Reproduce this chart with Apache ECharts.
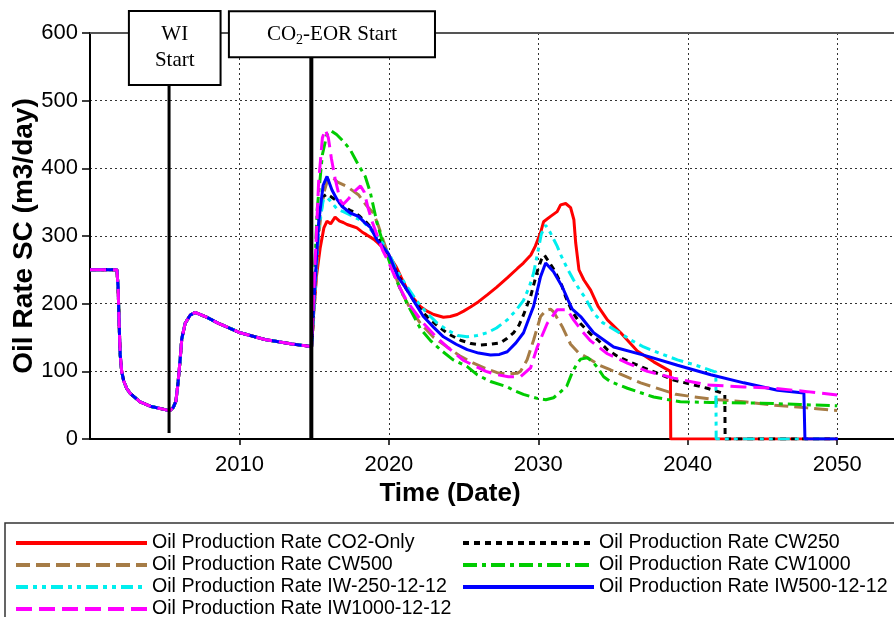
<!DOCTYPE html>
<html>
<head>
<meta charset="utf-8">
<script src="https://cdn.jsdelivr.net/npm/echarts@6/dist/echarts.min.js"></script>
<style>
  html, body { margin: 0; padding: 0; background: #fff; }
  #chart { width: 894px; height: 617px; }
</style>
</head>
<body>
<div id="chart"></div>
<script>
// shared history (same for every case up to CO2 start), [year, m3/day]
const history = [
  [2000, 250], [2001.8, 250], [2001.88, 225], [2001.95, 170], [2002.02, 125], [2002.12, 100],
  [2002.25, 86], [2002.45, 75], [2002.7, 67], [2003.35, 55], [2004.1, 48], [2005.1, 43],
  [2005.35, 42], [2005.58, 47], [2005.75, 56], [2005.9, 85], [2006.03, 117], [2006.14, 148],
  [2006.37, 171], [2006.7, 183], [2007.03, 187], [2007.8, 180], [2008.6, 171], [2010.05, 157],
  [2011.7, 147], [2013.5, 140.5], [2014.83, 136.5]
]

const co2Only = [
  [2014.95, 180], [2015.15, 240], [2015.4, 282], [2015.65, 312], [2015.86, 322], [2016.1, 318],
  [2016.4, 328], [2016.7, 322], [2016.95, 320], [2017.2, 317], [2017.6, 314], [2017.86, 312],
  [2018.2, 306], [2018.5, 302], [2019.0, 295], [2019.3, 289], [2019.8, 278], [2020.1, 268],
  [2020.5, 254], [2020.8, 240], [2021.2, 222], [2021.64, 208], [2022.1, 196], [2022.55, 189],
  [2023.0, 184], [2023.65, 180], [2024.1, 181], [2024.57, 184], [2025.0, 189], [2025.46, 195],
  [2026.0, 203], [2026.58, 213], [2027.2, 224], [2027.92, 238], [2028.6, 252], [2029.0, 260],
  [2029.5, 272], [2029.8, 285], [2030.15, 305], [2030.35, 321], [2030.82, 329], [2031.26, 336],
  [2031.49, 346], [2031.83, 348], [2032.16, 342], [2032.38, 324], [2032.5, 290], [2032.72, 250],
  [2033.05, 235], [2033.5, 220], [2034.0, 196], [2034.62, 176], [2035.51, 157], [2036.62, 130],
  [2037.72, 114], [2038.84, 100], [2038.86, 0], [2050, 0]
]

const cw250 = [
  [2015.0, 200], [2015.3, 320], [2015.6, 358], [2015.85, 362], [2016.2, 357], [2016.53, 352],
  [2016.95, 344], [2017.4, 338], [2017.62, 336], [2018.0, 330], [2018.5, 320], [2018.96, 309],
  [2019.5, 290], [2019.97, 273], [2020.3, 255], [2020.8, 235], [2021.22, 220], [2021.8, 200],
  [2022.31, 186], [2023.0, 172], [2023.45, 164], [2024.0, 155], [2024.79, 146], [2025.5, 141],
  [2026.13, 139], [2026.8, 140], [2027.47, 142], [2027.92, 149], [2028.34, 157], [2028.7, 168],
  [2029.0, 183], [2029.5, 212], [2029.93, 248], [2030.2, 265], [2030.4, 272], [2030.7, 262],
  [2031.0, 252], [2031.5, 231], [2031.83, 210], [2032.27, 188], [2032.8, 171], [2033.5, 155],
  [2034.0, 146], [2034.62, 132], [2035.3, 122], [2036.85, 107], [2038.2, 95], [2039.06, 87],
  [2040.4, 80], [2041.3, 75], [2042.3, 68], [2042.48, 66], [2042.5, 0], [2050, 0]
]

const cw500 = [
  [2015.0, 190], [2015.3, 300], [2015.6, 360], [2015.9, 383], [2016.2, 388], [2016.53, 380],
  [2017.2, 373], [2017.96, 361], [2018.5, 345], [2018.96, 334], [2019.3, 315], [2019.63, 293],
  [2019.97, 272], [2020.77, 220], [2021.5, 190], [2022.11, 171], [2023.0, 150], [2023.9, 136],
  [2024.8, 122], [2025.66, 112], [2026.5, 104], [2027.25, 98], [2027.92, 96], [2028.58, 97],
  [2028.81, 100], [2029.25, 117], [2029.68, 146], [2030.15, 181], [2030.5, 190], [2030.82, 192],
  [2031.02, 188], [2031.6, 166], [2032.16, 140], [2032.7, 127], [2033.3, 120], [2034.0, 110],
  [2034.84, 102], [2036.85, 83], [2039.2, 66], [2041.5, 59], [2043.75, 55], [2045.76, 50],
  [2048.0, 46], [2050.0, 42]
]

const cw1000 = [
  [2014.95, 200], [2015.2, 339], [2015.55, 420], [2015.85, 450], [2016.1, 456], [2016.5, 450],
  [2016.95, 440], [2017.4, 428], [2017.96, 405], [2018.42, 388], [2018.76, 364], [2019.21, 319],
  [2019.6, 290], [2019.88, 272], [2020.3, 245], [2020.64, 228], [2021.22, 200], [2022.11, 163],
  [2022.8, 145], [2023.45, 132], [2024.3, 117], [2025.24, 107], [2025.9, 95], [2026.8, 85],
  [2027.92, 77], [2028.34, 72], [2029.0, 66], [2029.93, 60], [2030.5, 58], [2031.02, 61],
  [2031.4, 68], [2031.9, 78], [2032.3, 100], [2032.61, 112], [2032.83, 118], [2033.27, 120],
  [2033.6, 115], [2033.95, 106], [2034.37, 92], [2034.8, 85], [2035.96, 75], [2037.72, 62],
  [2039.5, 55], [2041.5, 54], [2044.89, 53], [2047.5, 51], [2050.0, 49]
]

const iw250 = [
  [2015.0, 200], [2015.3, 310], [2015.6, 352], [2015.86, 357], [2016.2, 349], [2016.53, 340],
  [2016.95, 336], [2017.62, 329], [2018.29, 321], [2018.76, 310], [2019.21, 299], [2019.63, 288],
  [2019.88, 277], [2020.1, 270], [2020.5, 250], [2021.22, 225], [2022.0, 200], [2022.55, 186],
  [2023.2, 172], [2023.9, 161], [2024.6, 153], [2025.24, 151], [2025.9, 153], [2026.58, 157],
  [2027.2, 164], [2027.92, 176], [2028.5, 190], [2029.01, 205], [2029.4, 225], [2029.68, 245],
  [2030.0, 280], [2030.2, 303], [2030.49, 316], [2030.8, 305], [2031.26, 285], [2031.5, 272],
  [2031.94, 252], [2032.36, 235], [2032.83, 218], [2033.1, 210], [2033.7, 186], [2034.3, 172],
  [2035.28, 159], [2036.3, 145], [2037.05, 136], [2038.2, 126], [2039.31, 117], [2040.4, 110],
  [2041.74, 100], [2041.88, 99], [2041.9, 0], [2050, 0]
]

const iw500 = [
  [2015.0, 210], [2015.3, 320], [2015.6, 375], [2015.86, 388], [2016.19, 368], [2016.53, 354],
  [2016.85, 344], [2017.42, 334], [2017.96, 329], [2018.42, 319], [2018.76, 313], [2019.21, 294],
  [2019.6, 284], [2019.97, 274], [2020.2, 262], [2020.6, 240], [2021.22, 220], [2022.31, 181],
  [2023.0, 165], [2023.65, 151], [2024.5, 140], [2025.24, 132], [2026.0, 127], [2026.8, 124],
  [2027.4, 125], [2027.92, 129], [2028.5, 142], [2029.01, 157], [2029.4, 180], [2029.68, 196],
  [2030.15, 240], [2030.49, 260], [2031.02, 247], [2031.6, 225], [2032.0, 205], [2032.27, 192],
  [2032.83, 181], [2033.7, 157], [2035.04, 136], [2037.05, 124], [2039.31, 109], [2041.54, 95],
  [2043.75, 83], [2046.01, 72], [2047.77, 68], [2047.84, 0], [2050.05, 0]
]

const iw1000 = [
  [2015.0, 230], [2015.3, 380], [2015.55, 445], [2015.75, 457], [2015.95, 445], [2016.15, 415],
  [2016.4, 385], [2016.75, 352], [2016.95, 347], [2017.3, 355], [2017.7, 366], [2018.1, 374],
  [2018.35, 365], [2018.6, 342], [2018.9, 320], [2019.2, 302], [2019.6, 278], [2019.97, 262],
  [2020.3, 245], [2020.77, 222], [2021.22, 203], [2022.31, 171], [2023.2, 150], [2023.9, 136],
  [2025.0, 116], [2025.66, 109], [2026.5, 100], [2027.25, 95], [2028.0, 92], [2028.81, 92],
  [2029.48, 105], [2029.93, 136], [2030.6, 171], [2031.26, 191], [2031.94, 191], [2032.36, 176],
  [2032.9, 160], [2033.5, 145], [2034.62, 126], [2035.96, 112], [2037.3, 100], [2038.2, 95],
  [2039.06, 90], [2040.4, 84], [2041.3, 80], [2043.75, 77], [2045.76, 75], [2047.1, 72],
  [2048.0, 70], [2050.0, 65]
]

const seriesNames = [
  'Oil Production Rate CO2-Only',
  'Oil Production Rate CW250',
  'Oil Production Rate CW500',
  'Oil Production Rate CW1000',
  'Oil Production Rate IW-250-12-12',
  'Oil Production Rate IW500-12-12',
  'Oil Production Rate IW1000-12-12',
]
const seriesData = [co2Only, cw250, cw500, cw1000, iw250, iw500, iw1000]

// well events (year of start)
const eventYears = [2005.29, 2014.81]
const eventLabels = ['WI\nStart', 'CO{s|2}-EOR Start']

const yTicks = [0, 100, 200, 300, 400, 500, 600]
const xTicks = [2010, 2020, 2030, 2040, 2050]

// line looks, same order as seriesNames
const looks = [
  { color: '#ff0000', type: 'solid' },
  { color: '#000000', type: [6, 5] },
  { color: '#a67c46', type: [14, 6] },
  { color: '#00cc00', type: [14, 5, 4, 5] },
  { color: '#00eeee', type: [12, 5, 4, 5, 4, 5] },
  { color: '#0000ff', type: 'solid' },
  { color: '#ff00ff', type: [16, 7] },
]

const font = 'Liberation Sans, Arial, sans-serif'
const serif = 'Liberation Serif, Times New Roman, serif'

const lineSeries = seriesNames.map((name, i) => ({
  name,
  type: 'line',
  data: history.concat(seriesData[i]),
  symbol: 'none',
  smooth: false,
  color: looks[i].color,
  lineStyle: { color: looks[i].color, width: 3, type: looks[i].type },
  emphasis: { disabled: true },
  z: 3,
}))

const boxLabel = {
  show: true,
  position: 'inside',
  color: '#000',
  fontFamily: serif,
  fontSize: 21,
  lineHeight: 26,
  backgroundColor: '#fff',
  borderColor: '#000',
  borderWidth: 2,
}

const eventSeries = [
  {
    name: 'WI event',
    type: 'line',
    data: [[eventYears[0], 9], [eventYears[0], 524]],
    symbol: 'none',
    silent: true,
    clip: false,
    lineStyle: { color: '#000', width: 3 },
    z: 5,
    markPoint: {
      symbol: 'circle',
      symbolSize: 1,
      silent: true,
      itemStyle: { color: 'transparent' },
      label: { ...boxLabel, formatter: eventLabels[0], padding: [10, 25, 10, 25] },
      data: [{ coord: [eventYears[0] + 0.38, 578] }],
      z: 10,
    },
  },
  {
    name: 'CO2 event',
    type: 'line',
    data: [[eventYears[1], 0], [eventYears[1], 563]],
    symbol: 'none',
    silent: true,
    clip: false,
    lineStyle: { color: '#000', width: 4 },
    z: 5,
    markPoint: {
      symbol: 'circle',
      symbolSize: 1,
      silent: true,
      itemStyle: { color: 'transparent' },
      label: {
        ...boxLabel,
        formatter: eventLabels[1],
        padding: [9, 37, 9, 37],
        rich: { s: { fontFamily: serif, fontSize: 14, color: '#000', verticalAlign: 'bottom', padding: [8, 0, 0, 0] } },
      },
      data: [{ coord: [eventYears[1] + 1.38, 598] }],
      z: 10,
    },
  },
]

const legendBase = {
  orient: 'vertical',
  top: 533,
  height: 100,
  padding: 0,
  itemWidth: 131,
  itemHeight: 14,
  itemGap: 2,
  itemStyle: { color: 'transparent', opacity: 0, borderWidth: 0 },
  lineStyle: { width: 4 },
  textStyle: { color: '#000', fontFamily: font, fontSize: 19.6, lineHeight: 20 },
}

const option = {
  animation: false,
  backgroundColor: '#fff',
  grid: { left: 90, right: 0, top: 33, bottom: 178, outerBoundsMode: 'none' },
  legend: [
    { ...legendBase, left: 14, data: [seriesNames[0], seriesNames[2], seriesNames[4], seriesNames[6]] },
    { ...legendBase, left: 461, data: [seriesNames[1], seriesNames[3], seriesNames[5]] },
  ],
  graphic: [
    {
      type: 'rect',
      shape: { x: 5, y: 523, width: 900, height: 110 },
      style: { fill: 'none', stroke: '#333', lineWidth: 1.5 },
      z: -1,
    },
  ],
  xAxis: [
    {
      type: 'value',
      min: 2000,
      max: 2053.8,
      interval: 10,
      name: 'Time (Date)',
      nameLocation: 'middle',
      nameGap: 40,
      nameTextStyle: { color: '#000', fontFamily: font, fontSize: 26, fontWeight: 'bold', padding: [0, 84, 0, 0] },
      axisLine: { show: true, onZero: false, lineStyle: { color: '#000', width: 2 } },
      axisTick: { show: true, length: 6, lineStyle: { color: '#000', width: 1.5 } },
      axisLabel: {
        showMinLabel: false, showMaxLabel: false, margin: 15,
        color: '#000', fontFamily: font, fontSize: 22,
        formatter: (v) => (xTicks.includes(v) ? String(v) : ''),
      },
      splitLine: { show: true, lineStyle: { color: '#333', width: 1, type: [2, 3] } },
    },
    {
      type: 'value',
      position: 'top',
      min: 2000,
      max: 2053.8,
      axisLine: { show: true, onZero: false, lineStyle: { color: '#555', width: 2 } },
      axisTick: { show: false },
      axisLabel: { show: false },
      splitLine: { show: false },
    },
  ],
  yAxis: {
    type: 'value',
    min: yTicks[0],
    max: yTicks[yTicks.length - 1],
    interval: 100,
    name: 'Oil Rate SC (m3/day)',
    nameLocation: 'middle',
    nameGap: 52,
    nameMoveOverlap: false,
    nameTextStyle: { color: '#000', fontFamily: font, fontSize: 28, fontWeight: 'bold' },
    axisLine: { show: true, lineStyle: { color: '#000', width: 2 } },
    axisTick: { show: true, length: 8, lineStyle: { color: '#000', width: 1.5 } },
    axisLabel: { margin: 12, color: '#000', fontFamily: font, fontSize: 22 },
    splitLine: { show: true, lineStyle: { color: '#333', width: 1, type: [2, 3] } },
  },
  series: lineSeries.concat(eventSeries),
}

const chart = echarts.init(document.getElementById('chart'), null, { renderer: 'canvas' })
chart.setOption(option)
</script>
</body>
</html>
